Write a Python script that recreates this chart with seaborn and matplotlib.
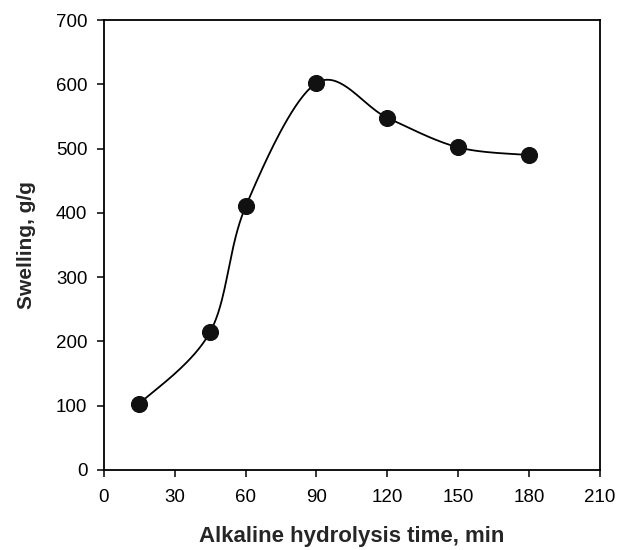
import numpy as np
import pandas as pd
import matplotlib
matplotlib.use("Agg")
import matplotlib.pyplot as plt
import seaborn as sns

time_min = [15, 45, 60, 90, 120, 150, 180]
swelling = [103, 215, 410, 602, 548, 502, 490]

x_ticks = [0, 30, 60, 90, 120, 150, 180, 210]
y_ticks = [0, 100, 200, 300, 400, 500, 600, 700]

X_RANGE = (0, 210)
Y_RANGE = (0, 700)

sns.set_theme(style="ticks")
plt.rcParams["font.family"] = ["Liberation Sans", "DejaVu Sans"]


def catmull_rom(x, y, sx, sy, n=40):
    """Parametric Catmull-Rom curve through the points, computed in
    axis-proportional units so the bends look even on screen."""
    p = np.column_stack([np.asarray(x, float) / sx, np.asarray(y, float) / sy])
    pts = np.vstack([p[0], p, p[-1]])
    out = []
    t = np.linspace(0, 1, n)[:, None]
    for i in range(1, len(pts) - 2):
        p0, p1, p2, p3 = pts[i - 1], pts[i], pts[i + 1], pts[i + 2]
        seg = 0.5 * ((2 * p1) + (-p0 + p2) * t
                     + (2 * p0 - 5 * p1 + 4 * p2 - p3) * t**2
                     + (-p0 + 3 * p1 - 3 * p2 + p3) * t**3)
        out.append(seg if i == 1 else seg[1:])
    c = np.vstack(out)
    return c[:, 0] * sx, c[:, 1] * sy


df = pd.DataFrame({"time": time_min, "swelling": swelling})
fig = plt.figure(figsize=(6.19, 5.5), dpi=100)
ax = fig.add_axes([0.168, 0.1455, 0.801, 0.818])

# scale factors: data units per pixel-ish unit on each axis
sx = (X_RANGE[1] - X_RANGE[0]) / 496.0
sy = (Y_RANGE[1] - Y_RANGE[0]) / 450.0
xs, ys = catmull_rom(time_min, swelling, sx, sy)
curve = pd.DataFrame({"time": xs, "swelling": ys})

sns.lineplot(data=curve, x="time", y="swelling", ax=ax, color="black",
             linewidth=1.3, sort=False)
sns.scatterplot(data=df, x="time", y="swelling", ax=ax, color="#111111",
                s=130, edgecolor="#111111", zorder=3)

ax.set_xlim(*X_RANGE)
ax.set_ylim(*Y_RANGE)
ax.set_xticks(x_ticks)
ax.set_yticks(y_ticks)
ax.tick_params(direction="out", length=5, width=1.1, labelsize=13.5,
               colors="black")
ax.tick_params(axis="x", pad=9)
ax.tick_params(axis="y", pad=7)
for s in ax.spines.values():
    s.set_linewidth(1.3)
    s.set_color("black")

ax.set_xlabel("Alkaline hydrolysis time, min", fontsize=16, fontweight="bold",
              labelpad=14)
ax.set_ylabel("Swelling, g/g", fontsize=15, fontweight="bold", labelpad=14)

fig.savefig("out.png", dpi=100)
